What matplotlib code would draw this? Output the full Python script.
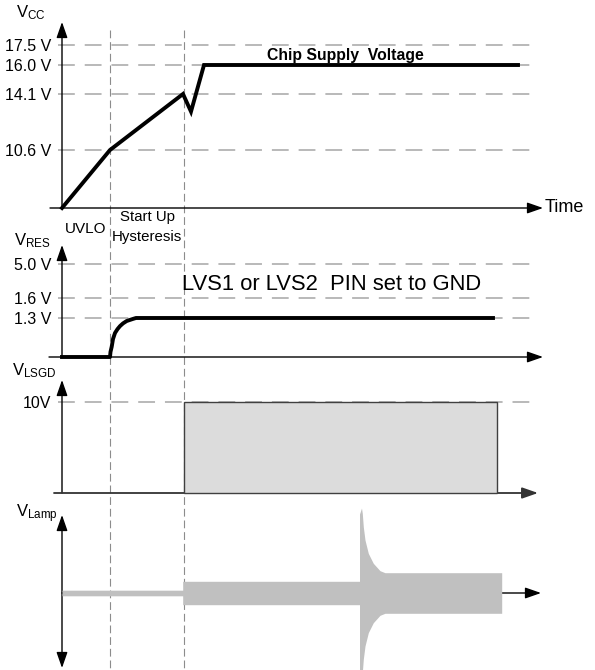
import numpy as np
import matplotlib
matplotlib.use('Agg')
import matplotlib.pyplot as plt
from matplotlib.lines import Line2D
from matplotlib.transforms import blended_transform_factory

plt.rcParams['font.family'] = ['Liberation Sans', 'DejaVu Sans']
plt.rcParams['mathtext.fontset'] = 'custom'
plt.rcParams['mathtext.rm'] = 'Liberation Sans'
plt.rcParams['mathtext.it'] = 'Liberation Sans:italic'
plt.rcParams['mathtext.bf'] = 'Liberation Sans:bold'

# ---- data (time in arbitrary units) ----
t_uvlo = 4.8
t_start = 12.2
t_axis_end = 48.1

vcc_t = [0, 4.8, 12.1, 12.9, 14.2, 45.6]
vcc_v = [0, 10.6, 14.1, 13.0, 16.0, 16.0]
vcc_levels = [17.5, 16.0, 14.1, 10.6]
vcc_labels = ['17.5 V', '16.0 V', '14.1 V', '10.6 V']

vres_t = [0, 4.8, 4.85, 4.97, 5.1, 5.3, 5.55, 5.8, 6.1, 6.47, 7.1, 7.4, 43.1]
vres_v = [0, 0, 0.17, 0.34, 0.6, 0.8, 0.93, 1.03, 1.12, 1.2, 1.27, 1.3, 1.3]
vres_levels = [5.0, 1.6, 1.3]
vres_labels = ['5.0 V', '1.6 V', '1.3 V']

lsgd_on = [12.2, 43.5]
lsgd_v = 10
lsgd_levels = [10]
lsgd_labels = ['10V']

lamp_t = [0, 12.07, 12.07, 29.75, 29.75, 29.95, 30.03, 30.13, 30.3, 30.63, 31.13, 31.8, 32.3, 43.97]
lamp_amp = [0.28, 0.28, 1.17, 1.17, 7.9, 8.5, 7.97, 6.63, 5.3, 3.97, 2.97, 2.23, 2.03, 2.03]

# ---- layout ----
W, H = 595, 670
GRID = '#a6a6a6'
ARROW = dict(arrowstyle='-|>,head_length=0.8,head_width=0.28', color='black',
             lw=1.0, mutation_scale=12, shrinkA=0, shrinkB=0)
DARROW = dict(ARROW, arrowstyle='<|-|>,head_length=0.8,head_width=0.28')


def level_scale(volts, pos):
    # piecewise linear schematic axis: volts -> drawn height
    return (lambda v: np.interp(v, volts, pos), lambda p: np.interp(p, pos, volts))


def make_ax(fig, top_px, bot_px):
    ax = fig.add_axes([0, 1 - bot_px / H, 1, (bot_px - top_px) / H])
    ax.set_xlim(-6.2, 53.3)
    ax.patch.set_visible(False)
    for s in ['top', 'right', 'bottom']:
        ax.spines[s].set_visible(False)
    ax.spines['left'].set_position(('data', 0))
    ax.spines['left'].set_color('none')
    ax.tick_params(axis='x', bottom=False, labelbottom=False)
    ax.tick_params(axis='y', length=0, pad=8, labelsize=11.5)
    return ax


def grid(ax, levels):
    ax.hlines(levels, -0.4, 47.6, colors=GRID, lw=1.1, linestyles=(0, (11, 6.5)), zorder=1)


def ylabel(ax, text, y_tip, dx=-10, dy=0):
    ax.annotate(text, xy=(0, y_tip), xytext=(dx, dy), textcoords='offset points',
                ha='right', va='center', fontsize=12)


fig = plt.figure(figsize=(W / 100, H / 100), dpi=100)

# ---- V_CC ----
ax1 = make_ax(fig, 10, 215)
f, g = level_scale([-10, 0, 10.6, 14.1, 16.0, 17.5, 40], [-54.7, 0, 58, 114, 143, 163, 463])
ax1.set_yscale('function', functions=(f, g))
ax1.set_ylim(float(g(-7)), float(g(198)))
ax1.set_yticks(vcc_levels, vcc_labels)
grid(ax1, vcc_levels)
ax1.annotate('', xy=(0, float(g(186))), xytext=(0, 0), arrowprops=ARROW)
ax1.annotate('', xy=(t_axis_end, 0), xytext=(-1.2, 0), arrowprops=ARROW)
ax1.plot(vcc_t, vcc_v, color='black', lw=2.8, solid_joinstyle='miter', zorder=4)
ax1.text(20.5, 16.34, 'Chip Supply  Voltage', fontsize=11.3, fontweight='bold', va='baseline')
ax1.annotate('Time', xy=(t_axis_end, 0), xytext=(1.5, 0), textcoords='offset points',
             ha='left', va='center', fontsize=13)
ylabel(ax1, r'V$_{\mathrm{CC}}$', float(g(186)), dx=-12, dy=7)
ax1.annotate('UVLO', xy=((0 + t_uvlo) / 2, 0), xytext=(0, -15), textcoords='offset points',
             ha='center', va='center', fontsize=11)
ax1.annotate('Start Up', xy=((t_uvlo + t_start) / 2, 0), xytext=(0, -6.5),
             textcoords='offset points', ha='center', va='center', fontsize=10.8)
ax1.annotate('Hysteresis', xy=((t_uvlo + t_start) / 2, 0), xytext=(0, -21),
             textcoords='offset points', ha='center', va='center', fontsize=10.8)

# ---- V_RES ----
ax2 = make_ax(fig, 240, 365)
f2, g2 = level_scale([-10, 0, 1.3, 1.6, 5.0, 30], [-300, 0, 39, 59, 93, 343])
ax2.set_yscale('function', functions=(f2, g2))
ax2.set_ylim(float(g2(-8)), float(g2(117)))
ax2.set_yticks(vres_levels, vres_labels)
grid(ax2, vres_levels)
ax2.annotate('', xy=(0, float(g2(112))), xytext=(0, 0), arrowprops=ARROW)
ax2.annotate('', xy=(t_axis_end, 0), xytext=(-1.3, 0), arrowprops=ARROW)
ax2.plot(vres_t, vres_v, color='black', lw=2.8, zorder=4)
ax2.text(12.0, 2.4, 'LVS1 or LVS2  PIN set to GND', fontsize=15.8, va='baseline')
ylabel(ax2, r'V$_{\mathrm{RES}}$', float(g2(112)), dx=-8, dy=3)

# ---- V_LSGD ----
ax3 = make_ax(fig, 375, 500)
ax3.set_ylim(-7 / 9.1, 118 / 9.1)
ax3.set_yticks(lsgd_levels, lsgd_labels)
grid(ax3, lsgd_levels)
ax3.bar(lsgd_on[0], lsgd_v, width=lsgd_on[1] - lsgd_on[0], align='edge',
        color='#dcdcdc', edgecolor='#404040', lw=1.0, zorder=4)
ax3.annotate('', xy=(0, 113 / 9.1), xytext=(0, 0), arrowprops=ARROW)
ax3.annotate('', xy=(t_axis_end - 0.5, 0), xytext=(-0.8, 0),
             arrowprops=dict(ARROW, color='#333333', lw=1.3))
ylabel(ax3, r'V$_{\mathrm{LSGD}}$', 113 / 9.1, dx=-4, dy=7)

# ---- V_Lamp ----
ax4 = make_ax(fig, 505, 670)
ax4.set_ylim(-7.7, 8.8)
ax4.set_yticks([])
ax4.annotate('', xy=(t_axis_end - 0.2, 0), xytext=(0, 0), arrowprops=ARROW)
ax4.annotate('', xy=(0, 7.8), xytext=(0, -7.5), arrowprops=DARROW)
ax4.fill_between(lamp_t, -np.array(lamp_amp), lamp_amp, color='#c0c0c0', lw=0, zorder=5)
ylabel(ax4, r'V$_{\mathrm{Lamp}}$', 7.8, dx=-3, dy=1)

# ---- phase markers across all panels ----
tr = blended_transform_factory(ax1.transData, fig.transFigure)
for tx in [t_uvlo, t_start]:
    fig.add_artist(Line2D([tx, tx], [1 - 30 / H, 0], transform=tr, color='#8c8c8c',
                          lw=0.8, linestyle=(0, (7, 3.5)), zorder=-1))

fig.savefig('out.png', dpi=100)
